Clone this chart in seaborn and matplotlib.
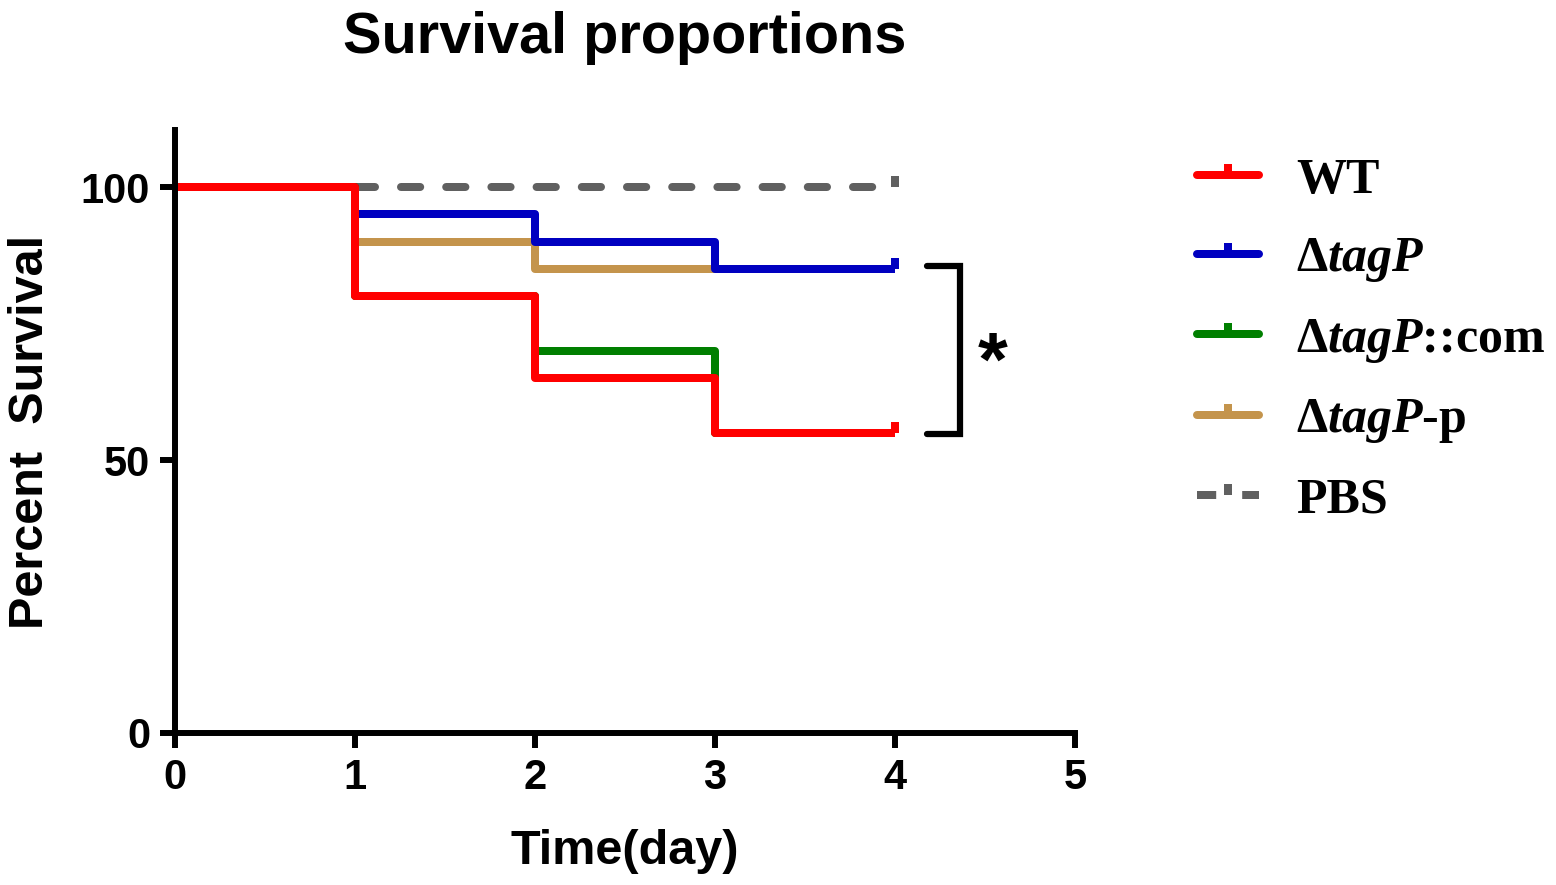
import pandas as pd
import seaborn as sns
import matplotlib.pyplot as plt
from matplotlib.lines import Line2D

# Données de survie (pourcentage par jour)
days = [0, 1, 2, 3, 4]
wt = [100, 80, 65, 55, 55]
tagp = [100, 95, 90, 85, 85]
tagp_com = [100, 80, 70, 55, 55]
tagp_p = [100, 90, 85, 85, 85]
pbs = [100, 100, 100, 100, 100]

groups = ['WT', 'tagP', 'tagP::com', 'tagP-p', 'PBS']
labels = ['WT', r'Δ$\mathit{tagP}$', r'Δ$\mathit{tagP}$::com',
          r'Δ$\mathit{tagP}$-p', 'PBS']
colors = ['#ff0000', '#0000c0', '#007f00', '#c4944c', '#606060']
draw_order = ['PBS', 'tagP-p', 'tagP', 'tagP::com', 'WT']

df = pd.DataFrame({
    'Time': days * 5,
    'Survival': wt + tagp + tagp_com + tagp_p + pbs,
    'Group': [g for g in groups for _ in days],
})

sns.set_style('ticks', {'axes.edgecolor': 'black', 'text.color': 'black',
                        'axes.labelcolor': 'black', 'xtick.color': 'black',
                        'ytick.color': 'black'})
plt.rcParams['font.family'] = ['Liberation Sans', 'DejaVu Sans']
plt.rcParams['font.weight'] = 'bold'
plt.rcParams['mathtext.fontset'] = 'custom'
plt.rcParams['mathtext.rm'] = 'Liberation Serif:bold'
plt.rcParams['mathtext.it'] = 'Liberation Serif:italic:bold'
plt.rcParams['mathtext.bf'] = 'Liberation Serif:bold'

fig = plt.figure(figsize=(15.56, 8.85), dpi=100)
ax = fig.add_axes([0.1125, 0.1718, 0.5784, 0.681])

lw = 5.76
for g in draw_order:
    sub = df[df['Group'] == g]
    c = colors[groups.index(g)]
    kw = dict(drawstyle='steps-post', marker=2, markevery=[-1],
              markersize=8, markeredgewidth=lw, markeredgecolor=c,
              solid_capstyle='butt')
    if g == 'PBS':
        kw.update(dashes=(2.4, 3.25), dash_capstyle='round')
    sns.lineplot(data=sub, x='Time', y='Survival', color=c, linewidth=lw,
                 ax=ax, legend=False, errorbar=None, **kw)

# Crochet de significativité
ax.plot([4.18, 4.36, 4.36, 4.18], [85.5, 85.5, 54.7, 54.7], color='black',
        lw=4.5, solid_joinstyle='miter', clip_on=False)
ax.text(4.54, 67.3, '*', fontsize=55, fontweight='bold', ha='center',
        va='center')

ax.set_xlim(0, 5)
ax.set_ylim(0, 110.4)
ax.set_xticks([0, 1, 2, 3, 4, 5])
ax.set_yticks([0, 50, 100])
sns.despine(ax=ax)
for s in ['left', 'bottom']:
    ax.spines[s].set_linewidth(4.3)
ax.tick_params(length=11, width=4.3, labelsize=30, pad=7)
for t in ax.get_xticklabels() + ax.get_yticklabels():
    t.set_fontweight('bold')

ax.set_xlabel('Time(day)', fontsize=35, fontweight='bold', labelpad=22)
ax.set_ylabel('Percent  Survival', fontsize=35, fontweight='bold',
              va='center')
ax.yaxis.set_label_coords(-0.161, 0.5)
fig.text(0.4017, 0.957, 'Survival proportions', fontsize=41.5,
         fontweight='bold', ha='center', va='center')

handles = []
for g in groups:
    c = colors[groups.index(g)]
    ls = (0, (2.4, 3.25)) if g == 'PBS' else '-'
    handles.append(Line2D([], [], color=c, lw=lw, ls=ls, marker=2,
                          markersize=8, markeredgewidth=lw))
leg = fig.legend(handles, labels, loc='upper left',
                 bbox_to_anchor=(0.769, 0.822), frameon=False,
                 prop={'family': 'Liberation Serif', 'weight': 'bold',
                       'size': 36},
                 handlelength=1.25, handletextpad=0.74, labelspacing=0.65,
                 borderpad=0, borderaxespad=0)

plt.savefig('out.png', dpi=100)
plt.close()
